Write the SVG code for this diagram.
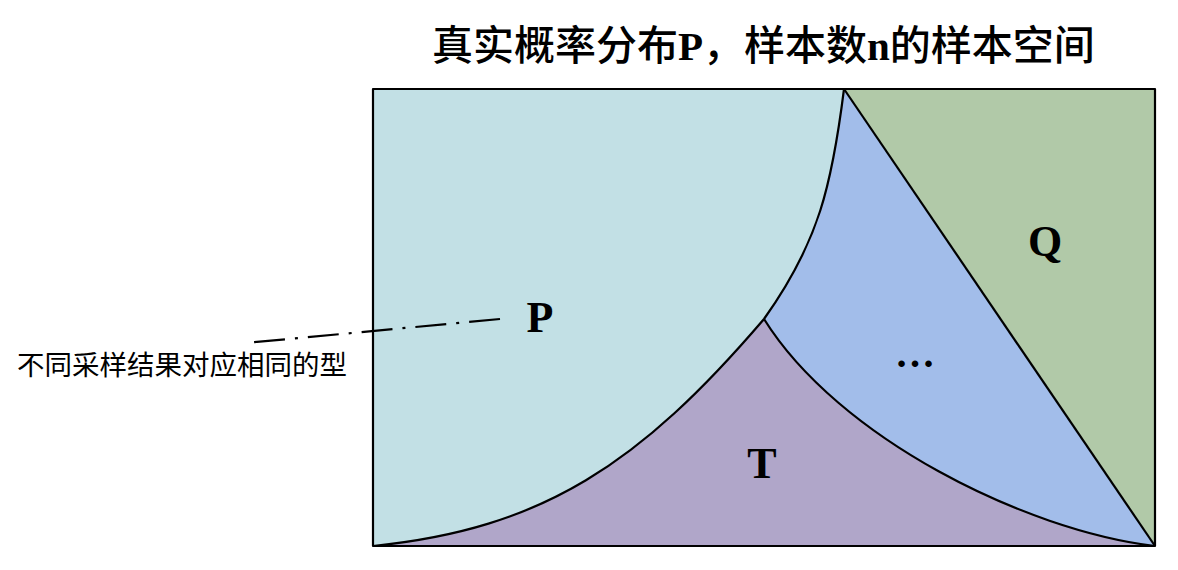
<svg xmlns="http://www.w3.org/2000/svg" width="1178" height="570" viewBox="0 0 1178 570">
<style>
.edge{fill:none;stroke:#000;stroke-width:2.2;stroke-linejoin:round}
.lbl{font-family:"Liberation Serif","Times New Roman",serif;font-weight:bold;font-size:44px;fill:#000;text-anchor:middle}
.cjk{font-family:"Noto Sans CJK SC","Noto Sans",sans-serif;fill:#000}
</style>
<rect width="1178" height="570" fill="#fff"/>
<g id="region-P">
<path d="M373,89 L844,89 C832.1,184 819.1,242 764,319 C640.5,463.4 543,529 373,546 Z" fill="#C2E0E5"/>
<text class="lbl" x="540" y="332">P</text>
</g>
<g id="region-T">
<path d="M373,546 C543,529 640.5,463.4 764,319 C838.2,438 1025,530.4 1155,546 Z" fill="#B0A6C9"/>
<text class="lbl" x="762" y="478">T</text>
</g>
<g id="region-dots">
<path d="M844,89 L1155,546 C1025,530.4 838.2,438 764,319 C819.1,242 832.1,184 844,89 Z" fill="#A2BDEA"/>
<text class="lbl" x="915" y="367" style="font-size:40px">…</text>
</g>
<g id="region-Q">
<path d="M844,89 L1155,89 L1155,546 Z" fill="#B1C9A8"/>
<text class="lbl" x="1045" y="256">Q</text>
</g>
<g id="boundaries">
<path class="edge" d="M844,89 C832.1,184 819.1,242 764,319 C640.5,463.4 543,529 373,546"/>
<path class="edge" d="M764,319 C838.2,438 1025,530.4 1155,546"/>
<path class="edge" d="M844,89 L1155,546"/>
<rect class="edge" x="373" y="89" width="782" height="457"/>
</g>
<g id="connectors">
<line x1="500" y1="319" x2="251" y2="342.5" stroke="#000" stroke-width="2.2" stroke-dasharray="31 10 3 10"/>
</g>
<g id="annotation">
<text class="cjk" x="17" y="375" style="font-size:27.5px">不同采样结果对应相同的型</text>
</g>
<g id="title">
<text class="cjk" x="432" y="60" style="font-size:41px;font-weight:500">真实概率分布<tspan style="font-family:'Liberation Serif',serif;font-weight:bold">P</tspan>，样本数<tspan style="font-family:'Liberation Serif',serif;font-weight:bold">n</tspan>的样本空间</text>
</g>
</svg>
